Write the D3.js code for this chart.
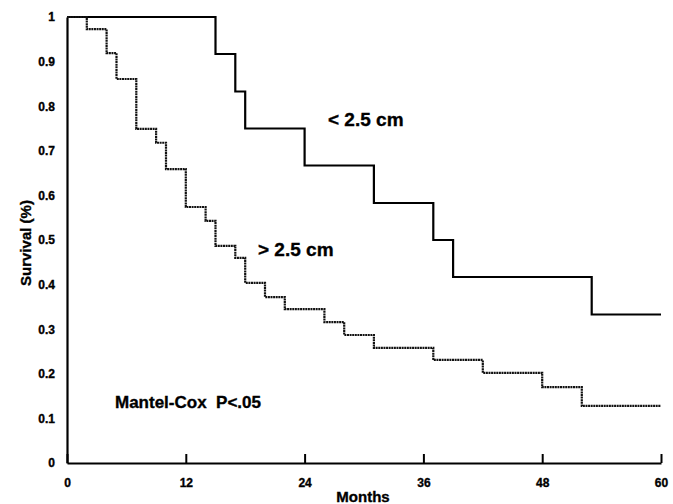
<!DOCTYPE html>
<html>
<head>
<meta charset="utf-8">
<script src="https://cdn.jsdelivr.net/npm/d3@7"></script>
<style>
  body { margin: 0; background: #fff; }
  text { font-family: "Liberation Sans", Arial, sans-serif; font-weight: bold; fill: #000; stroke: #000; stroke-width: 0.35px; }
</style>
</head>
<body>
<svg id="chart"></svg>
<script>
const width = 673
const height = 504

// survival, tumour < 2.5 cm (solid)
const smallMonths = [0, 15, 17, 18, 24, 31, 37, 39, 53, 60]
const smallSurv = [1, 0.917, 0.833, 0.75, 0.667, 0.583, 0.5, 0.417, 0.333, 0.333]

// survival, tumour > 2.5 cm (dotted)
const largeMonths = [0, 2, 4, 5, 7, 9, 10, 12, 14, 15, 17, 18, 20, 22, 26, 28, 31, 37, 42, 48, 52, 60]
const largeSurv = [1, 0.973, 0.919, 0.861, 0.749, 0.718, 0.659, 0.574, 0.543, 0.487, 0.46, 0.404, 0.372, 0.345, 0.316, 0.287, 0.258, 0.231, 0.202, 0.17, 0.128, 0.128]

const xTicks = [0, 12, 24, 36, 48, 60]
const yTicks = [0, 0.1, 0.2, 0.3, 0.4, 0.5, 0.6, 0.7, 0.8, 0.9, 1]

const svg = d3.select("#chart")
	.attr("width", width)
	.attr("height", height)

const x = d3.scaleLinear().domain([0, 60]).range([67, 661])
const y = d3.scaleLinear().domain([0, 1]).range([463, 17])

const line = d3.line()
	.x(d => x(d[0]))
	.y(d => y(d[1]))
	.curve(d3.curveStepAfter)

// x axis: ticks pointing up into the plot
const xAxis = svg.append("g")
	.attr("transform", "translate(0," + y(0) + ")")
	.call(d3.axisBottom(x).tickValues(xTicks).tickSizeInner(-9).tickSizeOuter(0).tickPadding(8))
xAxis.select(".domain").attr("stroke", "#000").attr("stroke-width", 2.2)
xAxis.selectAll(".tick line").attr("stroke", "#000").attr("stroke-width", 2)
xAxis.selectAll(".tick text")
	.attr("dy", "1.3em")
	.style("font-size", "12px")
	.style("font-family", "'Liberation Sans', Arial, sans-serif")
	.style("font-weight", "bold")

// y axis: labels only, no ticks
const yAxis = svg.append("g")
	.attr("transform", "translate(" + x(0) + ",0)")
	.call(d3.axisLeft(y).tickValues(yTicks).tickSize(0).tickPadding(12).tickFormat(d => d === 0 || d === 1 ? d : d3.format(".1f")(d)))
yAxis.select(".domain").attr("stroke", "#000").attr("stroke-width", 2.2)
yAxis.selectAll(".tick text")
	.style("font-size", "12px")
	.style("font-family", "'Liberation Sans', Arial, sans-serif")
	.style("font-weight", "bold")

svg.append("path")
	.datum(d3.zip(smallMonths, smallSurv))
	.attr("d", line)
	.attr("fill", "none")
	.attr("stroke", "#000")
	.attr("stroke-width", 2.2)

svg.append("path")
	.datum(d3.zip(largeMonths, largeSurv))
	.attr("d", line)
	.attr("fill", "none")
	.attr("stroke", "#111")
	.attr("stroke-width", 2.2)
	.attr("stroke-dasharray", "2,0.6")

svg.append("text")
	.attr("x", 328)
	.attr("y", 126)
	.style("font-size", "19px")
	.text("< 2.5 cm")

svg.append("text")
	.attr("x", 258)
	.attr("y", 256)
	.style("font-size", "19px")
	.text("> 2.5 cm")

svg.append("text")
	.attr("x", 115)
	.attr("y", 408)
	.style("font-size", "17px")
	.style("white-space", "pre")
	.attr("xml:space", "preserve")
	.text("Mantel-Cox  P<.05")

svg.append("text")
	.attr("x", 363)
	.attr("y", 502)
	.attr("text-anchor", "middle")
	.style("font-size", "15px")
	.text("Months")

svg.append("text")
	.attr("transform", "translate(31,243) rotate(-90)")
	.attr("text-anchor", "middle")
	.style("font-size", "15px")
	.text("Survival (%)")
</script>
</body>
</html>
